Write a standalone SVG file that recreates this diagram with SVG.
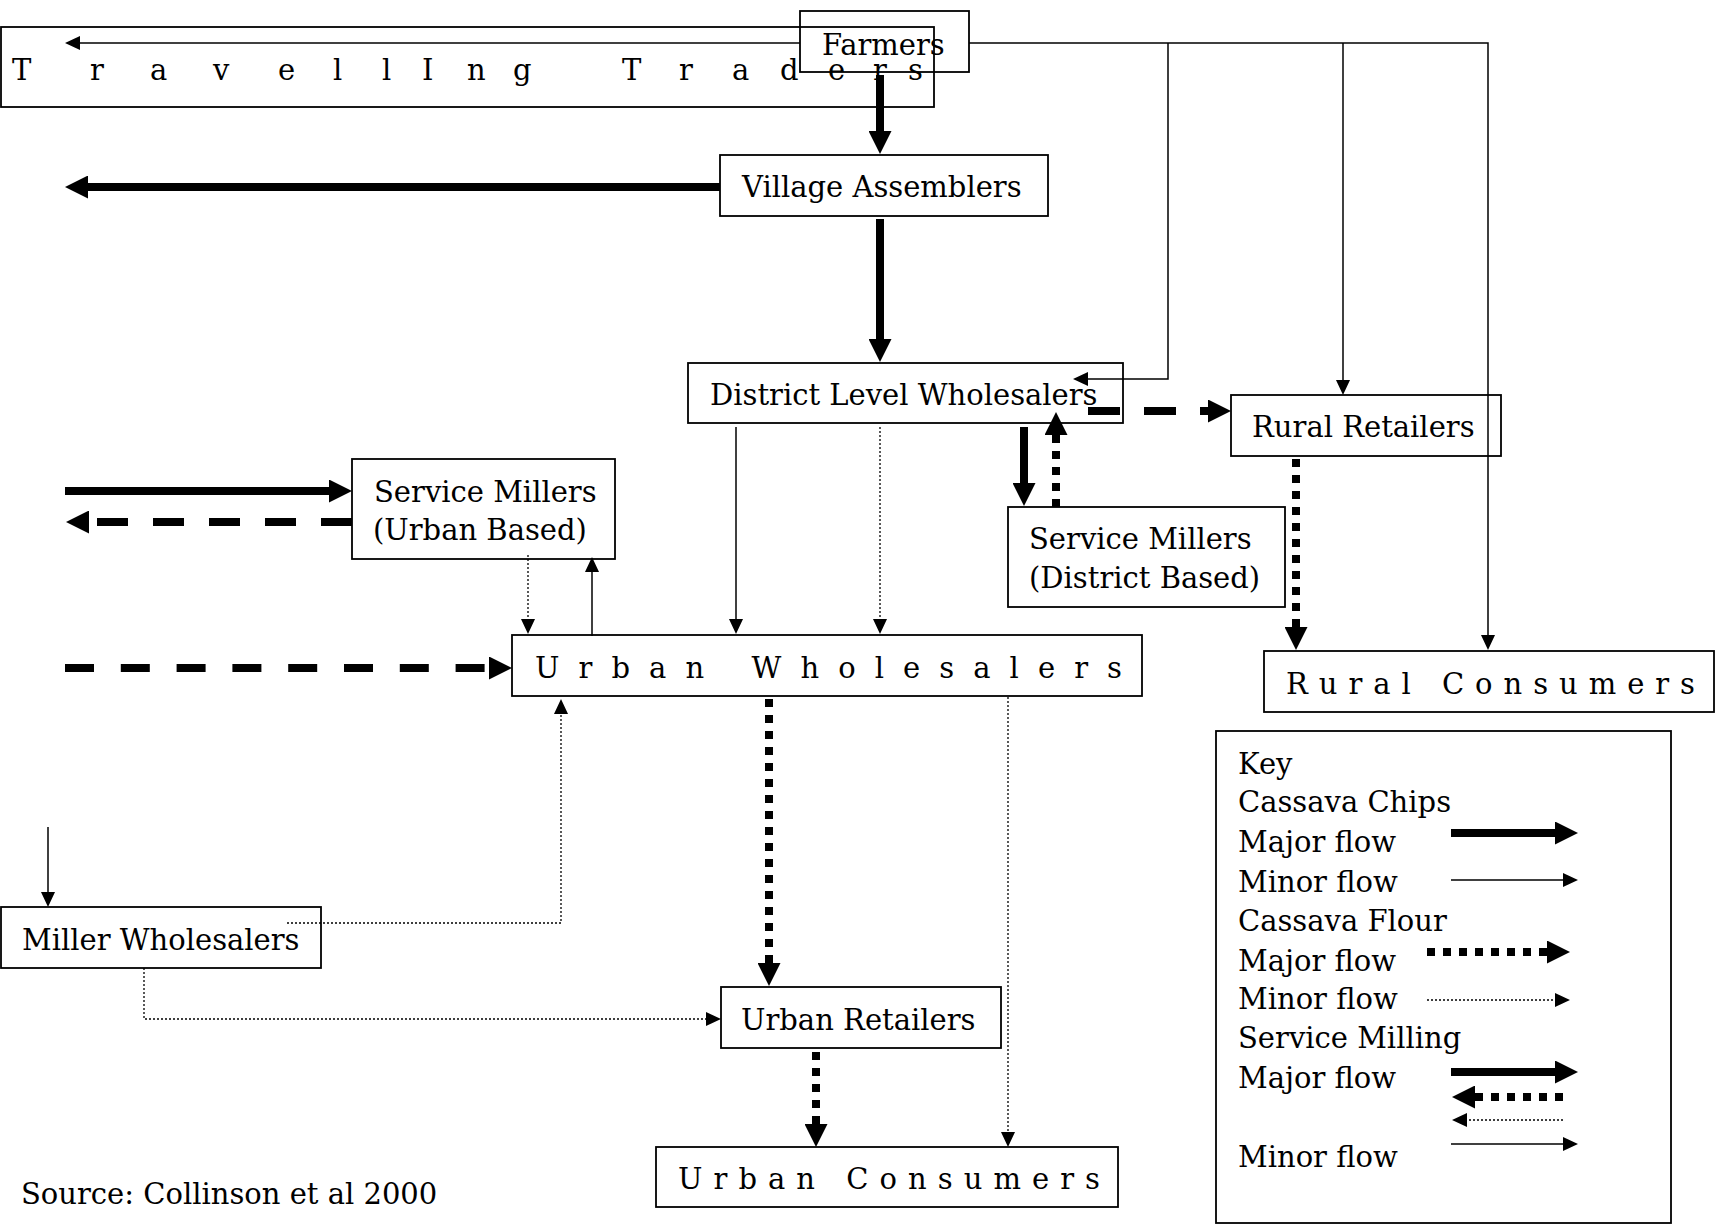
<svg xmlns="http://www.w3.org/2000/svg" width="1721" height="1225" viewBox="0 0 1721 1225">
<style>
  .box { fill: none; stroke: #000; stroke-width: 1.8; }
  .t { font-family: "DejaVu Serif", "Liberation Serif", serif; font-size: 29px; fill: #000; }
  .thick { fill: none; stroke: #000; stroke-width: 8; }
  .thin { fill: none; stroke: #000; stroke-width: 1.5; }
  .dot { fill: none; stroke: #000; stroke-width: 1.3; stroke-dasharray: 2 2; }
  .sq { stroke-dasharray: 8 8; }
  .dsh { stroke-dasharray: 31 25; }
  .hb { marker-end: url(#hb); }
  .hs { marker-end: url(#hs); }
</style>
<defs>
  <marker id="hb" markerUnits="userSpaceOnUse" markerWidth="23" markerHeight="23" viewBox="0 0 23 23" refX="0" refY="11.5" orient="auto">
    <path d="M0,0 L23,11.5 L0,23 z" fill="#000"/>
  </marker>
  <marker id="hs" markerUnits="userSpaceOnUse" markerWidth="15" markerHeight="14" viewBox="0 0 15 14" refX="0" refY="7" orient="auto">
    <path d="M0,0 L15,7 L0,14 z" fill="#000"/>
  </marker>
</defs>
<rect x="0" y="0" width="1721" height="1225" fill="#fff"/>

<g id="travelling-traders">
  <rect class="box" x="1" y="27" width="933" height="80"/>
  <text class="t" x="12 90 150 213 278 333 382 422 467 513 570 622 679 732 780 828 873 908" y="80">TravellIng Traders</text>
</g>
<g id="farmers">
  <rect class="box" x="800" y="11" width="169" height="61"/>
  <text class="t" x="822" y="55">Farmers</text>
</g>
<g id="village-assemblers">
  <rect class="box" x="720" y="155" width="328" height="61"/>
  <text class="t" x="742" y="197">Village Assemblers</text>
</g>
<g id="district-wholesalers">
  <rect class="box" x="688" y="363" width="435" height="60"/>
  <text class="t" x="710" y="405">District Level Wholesalers</text>
</g>
<g id="rural-retailers">
  <rect class="box" x="1231" y="395" width="270" height="61"/>
  <text class="t" x="1252" y="437">Rural Retailers</text>
</g>
<g id="service-millers-district">
  <rect class="box" x="1008" y="507" width="277" height="100"/>
  <text class="t" x="1029" y="549">Service Millers</text>
  <text class="t" x="1029" y="588">(District Based)</text>
</g>
<g id="rural-consumers">
  <rect class="box" x="1264" y="651" width="450" height="61"/>
  <text class="t" x="1286" y="694" textLength="409" lengthAdjust="spacing">Rural Consumers</text>
</g>
<g id="service-millers-urban">
  <rect class="box" x="352" y="459" width="263" height="100"/>
  <text class="t" x="374" y="502">Service Millers</text>
  <text class="t" x="373" y="540">(Urban Based)</text>
</g>
<g id="urban-wholesalers">
  <rect class="box" x="512" y="635" width="630" height="61"/>
  <text class="t" x="535" y="678" textLength="587" lengthAdjust="spacing">Urban Wholesalers</text>
</g>
<g id="miller-wholesalers">
  <rect class="box" x="1" y="907" width="320" height="61"/>
  <text class="t" x="22" y="950">Miller Wholesalers</text>
</g>
<g id="urban-retailers">
  <rect class="box" x="721" y="987" width="280" height="61"/>
  <text class="t" x="741" y="1030">Urban Retailers</text>
</g>
<g id="urban-consumers">
  <rect class="box" x="656" y="1147" width="462" height="60"/>
  <text class="t" x="678" y="1189" textLength="422" lengthAdjust="spacing">Urban Consumers</text>
</g>
<g id="source">
  <text class="t" x="21" y="1204">Source: Collinson et al 2000</text>
</g>

<g id="key">
  <rect class="box" x="1216" y="731" width="455" height="492"/>
  <text class="t" x="1238" y="774">Key</text>
  <text class="t" x="1238" y="812">Cassava Chips</text>
  <text class="t" x="1238" y="852">Major flow</text>
  <text class="t" x="1238" y="892">Minor flow</text>
  <text class="t" x="1238" y="931">Cassava Flour</text>
  <text class="t" x="1238" y="971">Major flow</text>
  <text class="t" x="1238" y="1009">Minor flow</text>
  <text class="t" x="1238" y="1048">Service Milling</text>
  <text class="t" x="1238" y="1088">Major flow</text>
  <text class="t" x="1238" y="1167">Minor flow</text>
  <path class="thick hb" d="M1451,833 H1555"/>
  <path class="thin hs" d="M1451,880 H1563"/>
  <path class="thick sq hb" d="M1427,952 H1547"/>
  <path class="dot hs" d="M1427,1000 H1555"/>
  <path class="thick hb" d="M1451,1072 H1555"/>
  <path class="thick sq hb" d="M1563,1097 H1475"/>
  <path class="dot hs" d="M1563,1120 H1467"/>
  <path class="thin hs" d="M1451,1144 H1563"/>
</g>

<g id="connectors">
  <path class="thin hs" d="M800,43 H80"/>
  <path class="thin hs" d="M969,43 H1488 V635"/>
  <path class="thin hs" d="M1168,43 V379 H1088"/>
  <path class="thin hs" d="M1343,43 V380"/>
  <path class="thick hb" d="M880,75 V131"/>
  <path class="thick hb" d="M720,187 H88"/>
  <path class="thick hb" d="M880,219 V339"/>
  <path class="thick hb" d="M1088,411 H1208" style="stroke-dasharray:32 24"/>
  <path class="thick hb" d="M1024,427 V483"/>
  <path class="thick sq hb" d="M1056,507 V435"/>
  <path class="thick sq hb" d="M1296,459 V627"/>
  <path class="thin hs" d="M736,427 V619"/>
  <path class="dot hs" d="M880,427 V619"/>
  <path class="thick hb" d="M65,491 H329"/>
  <path class="thick dsh hb" d="M352,522 H89"/>
  <path class="dot hs" d="M528,555 V619"/>
  <path class="thin hs" d="M592,636 V572"/>
  <path class="thick hb" d="M65,668 H489" style="stroke-dasharray:29 26.8"/>
  <path class="thick sq hb" d="M769,699 V963"/>
  <path class="dot hs" d="M1008,697 V1132"/>
  <path class="dot hs" d="M287,923 H561 V714"/>
  <path class="dot hs" d="M144,968 V1019 H706"/>
  <path class="thin hs" d="M48,827 V892"/>
  <path class="thick sq hb" d="M816,1052 V1124"/>
</g>
</svg>
